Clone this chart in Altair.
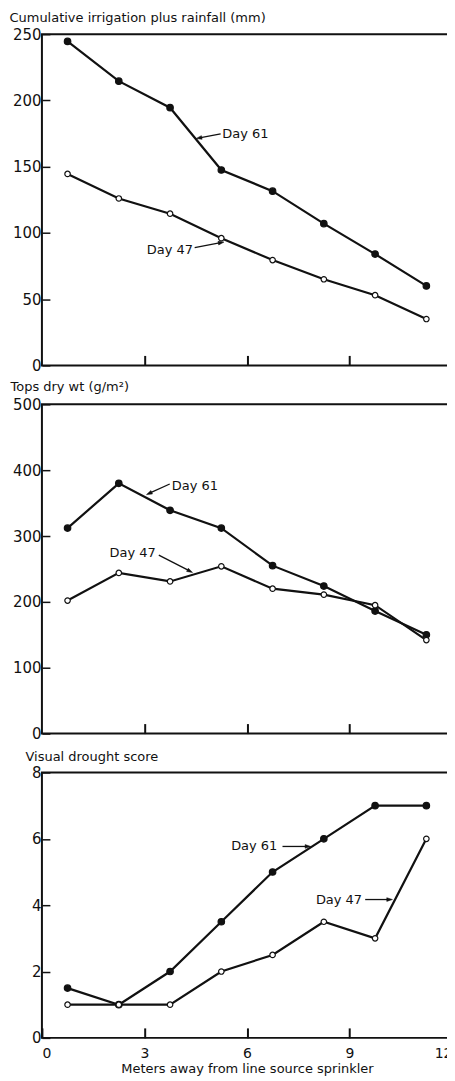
import math
import altair as alt
import pandas as pd

# ---------------- data ----------------
x_m = [0.75, 2.25, 3.75, 5.25, 6.75, 8.25, 9.75, 11.25]
series_names = ["Day 61", "Day 47"]

irr_day61 = [244.5, 214.5, 194.5, 147.5, 131.5, 107, 84, 60]
irr_day47 = [144.5, 126, 114.5, 96, 79.5, 65, 53, 35]
dry_day61 = [312, 380, 339, 312, 255, 224, 186, 150]
dry_day47 = [202, 244, 231, 254, 220, 211, 195, 142]
score_day61 = [1.5, 1, 2, 3.5, 5, 6, 7, 7]
score_day47 = [1, 1, 1, 2, 2.5, 3.5, 3, 6]

panel_titles = ["Cumulative irrigation plus rainfall (mm)", "Tops dry wt (g/m²)", "Visual drought score"]
y_max = [250, 500, 8]
y_ticks = [[0, 50, 100, 150, 200, 250], [0, 100, 200, 300, 400, 500], [0, 2, 4, 6, 8]]
x_ticks = [0, 3, 6, 9, 12]
x_title = "Meters away from line source sprinkler"

# annotations (data coordinates): label, text x, text y, align, arrow tail x/y, arrow head x/y
ann_label = [["Day 61", "Day 47"], ["Day 61", "Day 47"], ["Day 61", "Day 47"]]
ann_tx = [[5.28, 4.42], [3.80, 3.33], [6.89, 9.37]]
ann_ty = [[174.5, 87], [376, 274], [5.77, 4.17]]
ann_align = [["left", "right"], ["left", "right"], ["right", "right"]]
arr_x1 = [[5.23, 4.47], [3.74, 3.42], [7.04, 9.46]]
arr_y1 = [[174.7, 88.9], [379, 271], [5.77, 4.17]]
arr_x2 = [[4.61, 5.23], [3.15, 4.32], [7.77, 10.16]]
arr_y2 = [[171.7, 92.6], [365, 247], [5.77, 4.17]]

# ---------------- layout ----------------
W = 411
heights = [332, 330, 266]
title_x = [-41, -40, -25]
title_y = [-13, -14, -12]
FONT = "DejaVu Sans"
INK = "#111111"

values61 = [irr_day61, dry_day61, score_day61]
values47 = [irr_day47, dry_day47, score_day47]


def panel(i):
    H = heights[i]
    bottom = i == 2
    df = pd.DataFrame({
        "x": x_m + x_m,
        "v": values61[i] + values47[i],
        "s": [series_names[0]] * 8 + [series_names[1]] * 8,
    })
    xaxis_kw = dict(
        values=x_ticks if bottom else [3, 6, 9],
        labels=bottom,
        tickSize=10,
        offset=-10,
        tickWidth=2,
        tickColor=INK,
        labelPadding=9,
        labelFontSize=14,
        labelFont=FONT,
        labelColor=INK,
        domain=False,
        grid=False,
    )
    if bottom:
        xaxis_kw.update(title=x_title, titlePadding=2, titleFont=FONT, titleFontSize=13,
                        titleFontWeight="normal", titleColor=INK)
    else:
        xaxis_kw["title"] = None
    xenc = alt.X("x:Q", scale=alt.Scale(domain=[0, 12], nice=False, zero=False),
                 axis=alt.Axis(**xaxis_kw))
    yenc = alt.Y("v:Q", scale=alt.Scale(domain=[0, y_max[i]], nice=False),
                 axis=alt.Axis(values=y_ticks[i], tickSize=8, offset=-8, tickWidth=1.5,
                               tickColor=INK, domain=False, grid=False,
                               labelPadding=1, labelFontSize=15, labelFont=FONT, labelColor=INK,
                               title=panel_titles[i], titleAngle=0, titleAlign="left",
                               titleFont=FONT, titleFontSize=13, titleFontWeight="normal",
                               titleColor=INK,
                               titleBaseline="alphabetic", titleX=title_x[i], titleY=title_y[i]))

    line = alt.Chart(df).mark_line(color=INK, strokeWidth=2.2).encode(
        x=xenc, y=yenc, detail="s:N")
    pts = alt.Chart(df).mark_point(shape="circle", filled=True, stroke=INK, strokeWidth=1.2,
                                   opacity=1).encode(
        x=xenc, y=yenc,
        fill=alt.Fill("s:N", scale=alt.Scale(domain=series_names, range=[INK, "white"]), legend=None),
        size=alt.Size("s:N", scale=alt.Scale(domain=series_names, range=[42, 30]), legend=None),
    )
    layers = [line, pts]

    sx = W / 12.0
    sy = H / y_max[i]
    for k in range(2):
        adf = pd.DataFrame({"x": [arr_x1[i][k]], "v": [arr_y1[i][k]],
                            "x2": [arr_x2[i][k]], "v2": [arr_y2[i][k]]})
        layers.append(alt.Chart(adf).mark_rule(color=INK, strokeWidth=1.3).encode(
            x=xenc, y=yenc, x2="x2:Q", y2="v2:Q"))
        dxp = (arr_x2[i][k] - arr_x1[i][k]) * sx
        dyp = -(arr_y2[i][k] - arr_y1[i][k]) * sy
        ang = math.degrees(math.atan2(dxp, -dyp)) % 360
        hdf = pd.DataFrame({"x": [arr_x2[i][k]], "v": [arr_y2[i][k]]})
        layers.append(alt.Chart(hdf).mark_point(
            shape="M0,-1L0.55,0.7L-0.55,0.7Z", filled=True, fill=INK, stroke=INK,
            strokeWidth=0.5, size=45, angle=ang, opacity=1).encode(x=xenc, y=yenc))
        tdf = pd.DataFrame({"x": [ann_tx[i][k]], "v": [ann_ty[i][k]], "t": [ann_label[i][k]]})
        layers.append(alt.Chart(tdf).mark_text(
            align=ann_align[i][k], baseline="middle", font=FONT, fontSize=13, color=INK).encode(
            x=xenc, y=yenc, text="t:N"))

    return alt.layer(*layers).properties(width=W, height=H)


chart = alt.vconcat(panel(0), panel(1), panel(2), spacing=39, bounds="flush").properties(
    padding={"left": 0, "top": 1, "right": -7, "bottom": 0},
    background="white",
).configure_view(
    stroke=INK, strokeWidth=2
)

chart.save("out.html", embed_options={"renderer": "svg", "actions": False})
